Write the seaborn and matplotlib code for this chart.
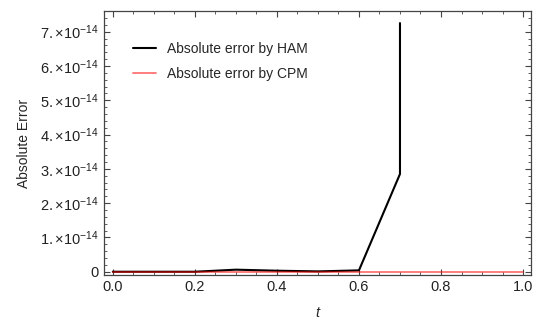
import numpy as np
import pandas as pd
import seaborn as sns
import matplotlib
matplotlib.use("Agg")
import matplotlib.pyplot as plt
from matplotlib.ticker import FixedLocator, AutoMinorLocator, FuncFormatter

# data (errors in units of 1e-14)
t_ham = [0.0, 0.1, 0.2, 0.3, 0.4, 0.5, 0.6, 0.7, 0.7]
err_ham = [0.0, 0.0, 0.0, 0.06, 0.03, 0.01, 0.04, 2.85, 7.25]
t_cpm = [0.0, 0.1, 0.2, 0.3, 0.4, 0.5, 0.6, 0.7, 0.8, 0.9, 1.0]
err_cpm = [0.0] * 11

scale = 1e-14
ham = pd.DataFrame({"t": t_ham, "err": np.array(err_ham) * scale})
cpm = pd.DataFrame({"t": t_cpm, "err": np.array(err_cpm) * scale})

sns.set_style("ticks")
plt.rcParams["font.family"] = ["Liberation Sans", "DejaVu Sans"]
plt.rcParams["mathtext.fontset"] = "custom"
plt.rcParams["mathtext.rm"] = "Liberation Sans"
plt.rcParams["mathtext.it"] = "Liberation Sans:italic"

fig, ax = plt.subplots(figsize=(5.35, 3.26), dpi=100)
fig.subplots_adjust(left=0.194, right=0.993, top=0.966, bottom=0.157)

sns.lineplot(data=ham, x="t", y="err", estimator=None, sort=False,
             color="black", lw=1.5, ax=ax, label="Absolute error by HAM")
sns.lineplot(data=cpm, x="t", y="err", estimator=None, sort=False,
             color="red", alpha=0.55, lw=1.3, ax=ax, label="Absolute error by CPM")

ax.set_xlim(-0.022, 1.02)
ax.set_ylim(-0.09e-14, 7.6e-14)

ax.xaxis.set_major_locator(FixedLocator([0, 0.2, 0.4, 0.6, 0.8, 1.0]))
ax.xaxis.set_minor_locator(AutoMinorLocator(4))
ax.yaxis.set_major_locator(FixedLocator([i * scale for i in range(8)]))
ax.yaxis.set_minor_locator(AutoMinorLocator(5))


def yfmt(v, pos):
    k = int(round(v / scale))
    if k == 0:
        return "0"
    return r"$%d.{\times}10^{-14}$" % k


ax.yaxis.set_major_formatter(FuncFormatter(yfmt))
ax.xaxis.set_major_formatter(FuncFormatter(lambda v, p: "%.1f" % v))

ax.tick_params(which="both", direction="in", top=True, right=True,
               color="#444444", labelsize=10.5, labelcolor="#222222")
ax.tick_params(which="major", length=4, width=0.8)
ax.tick_params(which="minor", length=2, width=0.6)
for s in ax.spines.values():
    s.set_color("#444444")
    s.set_linewidth(0.9)

ax.set_xlabel("t", fontsize=10.5, style="italic", labelpad=9)
ax.set_ylabel("Absolute Error", fontsize=10, labelpad=7)

leg = ax.legend(loc="upper left", bbox_to_anchor=(0.04, 0.93), frameon=False,
                fontsize=10, handlelength=1.6, handletextpad=0.8, labelspacing=0.8)

fig.savefig("out.png", dpi=100)
